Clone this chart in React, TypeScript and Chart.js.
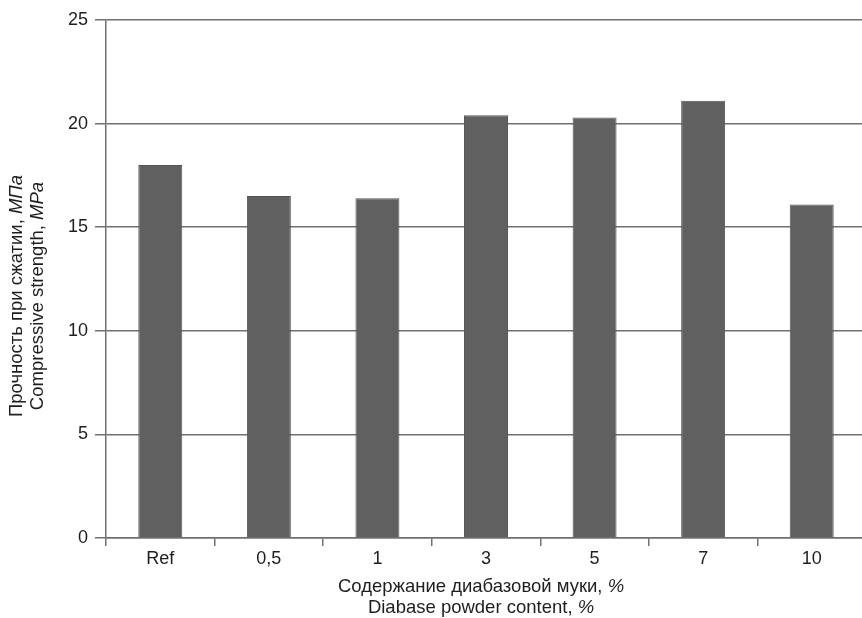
import React, { useEffect, useRef } from 'react';
import { Chart, registerables } from 'chart.js';

Chart.register(...registerables);

const categories: string[] = ['Ref', '0,5', '1', '3', '5', '7', '10'];
const strengthMPa: number[] = [18.0, 16.5, 16.4, 20.4, 20.3, 21.1, 16.1];
const yMin = 0;
const yMax = 25;
const yStep = 5;

type Seg = { t: string; i: boolean };
const yTitleRu: Seg[] = [{ t: 'Прочность при сжатии, ', i: false }, { t: 'МПа', i: true }];
const yTitleEn: Seg[] = [{ t: 'Compressive strength, ', i: false }, { t: 'MPa', i: true }];
const xTitleRu: Seg[] = [{ t: 'Содержание диабазовой муки, ', i: false }, { t: '%', i: true }];
const xTitleEn: Seg[] = [{ t: 'Diabase powder content, ', i: false }, { t: '%', i: true }];

const FONT = '"Liberation Sans", Arial, Helvetica, sans-serif';
const TEXT = '#1e1e1e';
const GRID = '#707070';
const TITLE_SIZE = 18.5;

function drawSegs(ctx: CanvasRenderingContext2D, segs: Seg[], cx: number, cy: number, size: number) {
  const fontFor = (s: Seg) => `${s.i ? 'italic ' : ''}${size}px ${FONT}`;
  let total = 0;
  const widths = segs.map((s) => {
    ctx.font = fontFor(s);
    const w = ctx.measureText(s.t).width;
    total += w;
    return w;
  });
  let x = cx - total / 2;
  ctx.textBaseline = 'middle';
  ctx.textAlign = 'left';
  ctx.fillStyle = TEXT;
  segs.forEach((s, k) => {
    ctx.font = fontFor(s);
    ctx.fillText(s.t, x, cy);
    x += widths[k];
  });
}

const titlesPlugin = {
  id: 'mixedTitles',
  afterDraw(chart: any) {
    const ctx: CanvasRenderingContext2D = chart.ctx;
    ctx.save();
    drawSegs(ctx, xTitleRu, 481, 587, TITLE_SIZE);
    drawSegs(ctx, xTitleEn, 481, 608, TITLE_SIZE);
    ctx.save();
    ctx.translate(17, 296);
    ctx.rotate(-Math.PI / 2);
    drawSegs(ctx, yTitleRu, 0, 0, TITLE_SIZE);
    ctx.restore();
    ctx.save();
    ctx.translate(37.5, 296);
    ctx.rotate(-Math.PI / 2);
    drawSegs(ctx, yTitleEn, 0, 0, TITLE_SIZE);
    ctx.restore();
    ctx.restore();
  },
};

export default function App() {
  const ref = useRef<HTMLCanvasElement | null>(null);
  useEffect(() => {
    document.body.style.margin = '0';
    const canvas = ref.current;
    if (!canvas) return;
    const chart = new Chart(canvas, {
      type: 'bar',
      data: {
        labels: categories,
        datasets: [
          {
            data: strengthMPa,
            backgroundColor: '#606060',
            borderColor: '#555555',
            borderWidth: 1,
            categoryPercentage: 1,
            barPercentage: 0.405,
          },
        ],
      },
      options: {
        responsive: false,
        animation: false,
        events: [],
        layout: { padding: { top: 20, right: 0, bottom: 0, left: 0 } },
        plugins: {
          legend: { display: false },
          tooltip: { enabled: false },
          title: { display: false },
        },
        scales: {
          x: {
            grid: {
              display: true,
              drawOnChartArea: false,
              drawTicks: true,
              tickLength: 8,
              color: GRID,
              lineWidth: 1.5,
              offset: true,
            },
            border: { display: true, color: GRID, width: 1.5 },
            ticks: {
              color: TEXT,
              font: { family: FONT, size: 18 },
              padding: 2,
              maxRotation: 0,
            },
            afterFit(scale: any) {
              scale.height = 80;
            },
          },
          y: {
            min: yMin,
            max: yMax,
            ticks: {
              stepSize: yStep,
              color: TEXT,
              font: { family: FONT, size: 18 },
              padding: 7,
            },
            grid: {
              color: GRID,
              lineWidth: 1.5,
              tickLength: 11,
            },
            border: { display: true, color: GRID, width: 1.5 },
            afterFit(scale: any) {
              scale.width = 106;
            },
          },
        },
      },
      plugins: [titlesPlugin],
    });
    return () => chart.destroy();
  }, []);
  return (
    <div style={{ position: 'absolute', left: 0, top: 0, width: 862, height: 618, overflow: 'hidden', background: '#fff' }}>
      <canvas ref={ref} width={866} height={618} style={{ display: 'block', width: 866, height: 618 }} />
    </div>
  );
}
